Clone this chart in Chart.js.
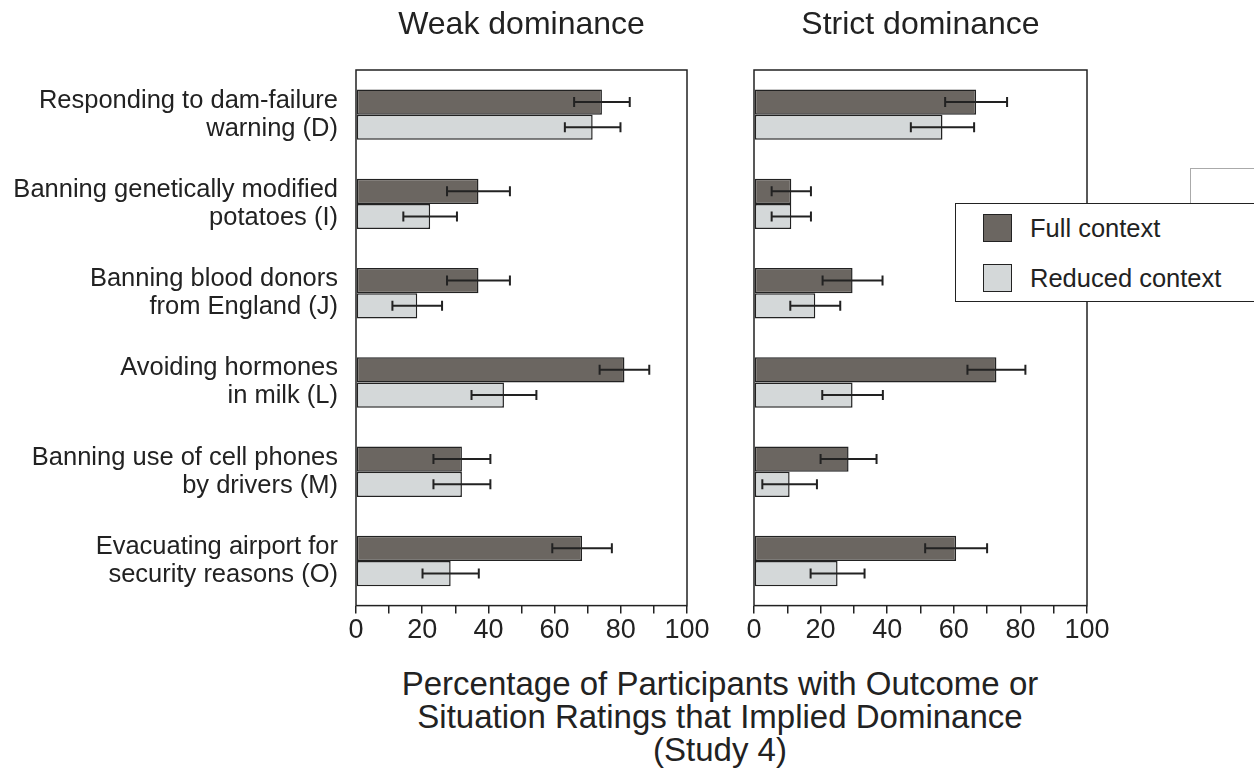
<!DOCTYPE html>
<html>
<head>
<meta charset="utf-8">
<script src="https://cdn.jsdelivr.net/npm/chart.js@4"></script>
<style>
  body { margin: 0; background: #fff; width: 1254px; height: 769px; overflow: hidden; position: relative;
         font-family: "Liberation Sans", Arial, sans-serif; color: #222; }
  #weak { position: absolute; left: 0; top: 0; }
  #strict { position: absolute; left: 700px; top: 0; }
  .legend { position: absolute; left: 955px; top: 203px; width: 310px; height: 99px; background: #fff;
            border: 1.5px solid #222; box-sizing: border-box; z-index: 2; }
  .legend .item { position: absolute; left: 27px; font-size: 25.5px; line-height: 28px; white-space: nowrap; }
  .legend .sw { display: inline-block; width: 29px; height: 28px; border: 1.5px solid #222; vertical-align: top;
                margin-right: 18px; box-sizing: border-box; }
  .ghost { position: absolute; left: 1190px; top: 168px; width: 80px; height: 36px;
           border-top: 1px solid #aaa; border-left: 1px solid #aaa; z-index: 1; }
  .xtitle { position: absolute; left: 320px; width: 800px; top: 667px; text-align: center;
            font-size: 33px; line-height: 33px; }
</style>
</head>
<body>
<canvas id="weak" width="720" height="660"></canvas>
<canvas id="strict" width="420" height="660"></canvas>
<div class="ghost"></div>
<div class="legend">
  <div class="item" style="top:10px"><span class="sw" style="background:#6b6661"></span>Full context</div>
  <div class="item" style="top:60px"><span class="sw" style="background:#d4d8d9"></span>Reduced context</div>
</div>
<div class="xtitle">Percentage of Participants with Outcome or<br>Situation Ratings that Implied Dominance<br>(Study 4)</div>
<script>
// data
const categories = [
  ['Responding to dam-failure', 'warning (D)'],
  ['Banning genetically modified', 'potatoes (I)'],
  ['Banning blood donors', 'from England (J)'],
  ['Avoiding hormones', 'in milk (L)'],
  ['Banning use of cell phones', 'by drivers (M)'],
  ['Evacuating airport for', 'security reasons (O)']
];
const seriesNames = ['Full context', 'Reduced context'];
const xTicks = [0, 20, 40, 60, 80, 100];

const weakFull = [74.3, 37.0, 37.0, 81.1, 32.0, 68.3];
const weakFullErr = [8.4, 9.5, 9.5, 7.5, 8.6, 9.0];
const weakReduced = [71.5, 22.4, 18.5, 44.7, 32.0, 28.6];
const weakReducedErr = [8.4, 8.1, 7.5, 9.8, 8.6, 8.5];

const strictFull = [66.7, 11.2, 29.6, 72.8, 28.4, 60.7];
const strictFullErr = [9.3, 5.9, 9.0, 8.7, 8.4, 9.3];
const strictReduced = [56.6, 11.2, 18.4, 29.6, 10.7, 25.1];
const strictReducedErr = [9.5, 5.9, 7.5, 9.1, 8.2, 8.1];

const fullColor = '#6b6661';
const reducedColor = '#d4d8d9';
const ink = '#222';

Chart.defaults.font.family = '"Liberation Sans", Arial, sans-serif';
Chart.defaults.color = ink;

// error bars, drawn from the err arrays through the x scale
const errorBars = {
  id: 'errorBars',
  afterDatasetsDraw(chart) {
    const ctx = chart.ctx;
    const xs = chart.scales.x;
    ctx.save();
    ctx.strokeStyle = ink;
    ctx.lineWidth = 2;
    chart.data.datasets.forEach((ds, i) => {
      chart.getDatasetMeta(i).data.forEach((bar, j) => {
        const v = ds.data[j], e = ds.err[j];
        const x1 = xs.getPixelForValue(v - e), x2 = xs.getPixelForValue(v + e);
        ctx.beginPath();
        ctx.moveTo(x1, bar.y); ctx.lineTo(x2, bar.y);
        ctx.moveTo(x1, bar.y - 5); ctx.lineTo(x1, bar.y + 5);
        ctx.moveTo(x2, bar.y - 5); ctx.lineTo(x2, bar.y + 5);
        ctx.stroke();
      });
    });
    ctx.restore();
  }
};

const frame = {
  id: 'frame',
  afterDatasetsDraw(chart) {
    const a = chart.chartArea, ctx = chart.ctx;
    ctx.save();
    ctx.strokeStyle = ink;
    ctx.lineWidth = 1.5;
    ctx.strokeRect(a.left, a.top, a.right - a.left, a.bottom - a.top);
    ctx.restore();
  }
};

function makeChart(id, title, full, fullErr, reduced, reducedErr, showLabels, axisWidth) {
  return new Chart(document.getElementById(id), {
    type: 'bar',
    data: {
      labels: categories,
      datasets: [
        { label: seriesNames[0], data: full, err: fullErr, backgroundColor: fullColor },
        { label: seriesNames[1], data: reduced, err: reducedErr, backgroundColor: reducedColor }
      ]
    },
    options: {
      indexAxis: 'y',
      responsive: false,
      animation: false,
      layout: { padding: { right: 33, bottom: 12 } },
      datasets: {
        bar: { categoryPercentage: 0.565, barPercentage: 1, borderColor: ink, borderWidth: 1.5, borderSkipped: false }
      },
      scales: {
        x: {
          min: 0, max: 100,
          afterBuildTicks: s => { s.ticks = []; for (let v = 0; v <= 100; v += 10) s.ticks.push({ value: v }); },
          ticks: {
            autoSkip: false, maxRotation: 0, padding: 1,
            font: { size: 27 },
            callback: v => xTicks.includes(v) ? String(v) : ''
          },
          grid: { drawOnChartArea: false, drawTicks: true, tickLength: 8, color: ink, lineWidth: 1.5 },
          border: { display: false }
        },
        y: {
          afterFit: s => { s.width = axisWidth; },
          grid: { display: false },
          border: { display: false },
          ticks: { display: showLabels, padding: 10, font: { size: 25.5, lineHeight: 1.1 } }
        }
      },
      plugins: {
        legend: { display: false },
        tooltip: { enabled: false },
        title: { display: true, text: title, fullSize: false, font: { size: 32, weight: 'normal' }, color: ink,
                 padding: { top: 6, bottom: 25.6 } }
      }
    },
    plugins: [errorBars, frame]
  });
}

makeChart('weak', 'Weak dominance', weakFull, weakFullErr, weakReduced, weakReducedErr, true, 356);
makeChart('strict', 'Strict dominance', strictFull, strictFullErr, strictReduced, strictReducedErr, false, 54);
</script>
</body>
</html>
